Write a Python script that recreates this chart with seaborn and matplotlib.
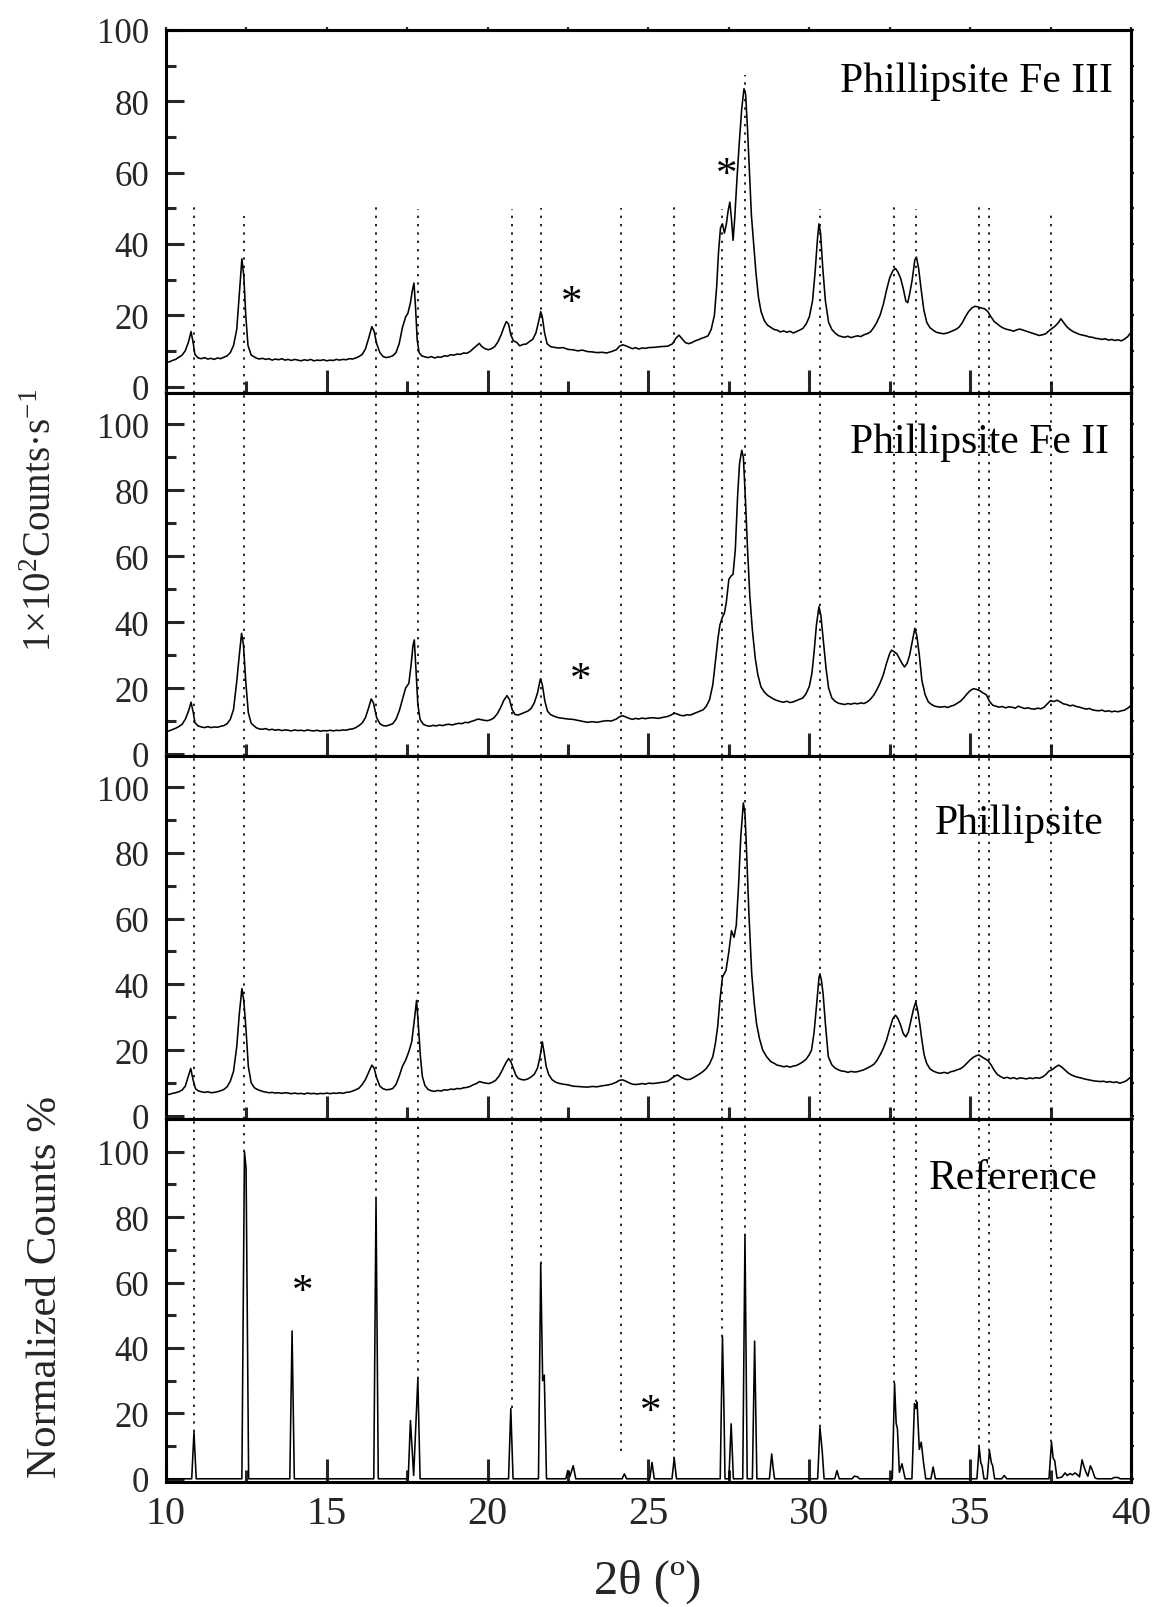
import numpy as np
import pandas as pd
import matplotlib
matplotlib.use("Agg")
import matplotlib.pyplot as plt
from matplotlib.ticker import MultipleLocator
import seaborn as sns

# ---------------- data ----------------
panel_names = ["Phillipsite Fe III", "Phillipsite Fe II", "Phillipsite", "Reference"]

# (2θ, 1e2 counts/s) for the Fe(III)-exchanged sample
fe3_trace = [
    (10.00, 6.8), (10.10, 6.9), (10.20, 7.3), (10.30, 7.6), (10.40, 8.2), (10.50, 8.8), (10.60, 10.0),
    (10.70, 12.5), (10.78, 15.4), (10.85, 12.0), (10.90, 9.0), (11.00, 8.0), (11.10, 7.8), (11.20, 8.1),
    (11.30, 7.7), (11.40, 7.9), (11.50, 7.6), (11.60, 8.0), (11.70, 7.8), (11.80, 8.2), (11.90, 8.6),
    (12.00, 9.5), (12.10, 11.5), (12.20, 16.0), (12.28, 26.0), (12.36, 35.8), (12.42, 31.0), (12.48, 20.0),
    (12.55, 11.5), (12.65, 8.8), (12.80, 8.0), (12.90, 7.7), (13.00, 7.9), (13.10, 7.6), (13.20, 7.8),
    (13.30, 7.4), (13.40, 7.7), (13.50, 7.5), (13.60, 7.8), (13.70, 7.4), (13.80, 7.6), (13.90, 7.3),
    (14.00, 7.6), (14.10, 7.4), (14.20, 7.2), (14.30, 7.5), (14.40, 7.3), (14.50, 7.6), (14.60, 7.2),
    (14.70, 7.4), (14.80, 7.3), (14.90, 7.5), (15.00, 7.2), (15.10, 7.4), (15.20, 7.3), (15.30, 7.6),
    (15.40, 7.4), (15.50, 7.6), (15.60, 7.5), (15.70, 7.8), (15.80, 7.7), (15.90, 8.0), (16.00, 8.4),
    (16.10, 9.0), (16.20, 10.5), (16.30, 13.5), (16.40, 16.8), (16.47, 15.5), (16.55, 12.0), (16.65, 9.5),
    (16.75, 8.4), (16.85, 8.1), (16.95, 8.3), (17.05, 8.6), (17.15, 9.5), (17.25, 12.0), (17.35, 16.5),
    (17.45, 19.5), (17.52, 20.5), (17.60, 23.5), (17.66, 27.0), (17.71, 29.0), (17.76, 22.0), (17.81, 13.0),
    (17.87, 9.5), (17.95, 8.6), (18.05, 8.3), (18.15, 8.1), (18.25, 8.4), (18.35, 8.0), (18.45, 8.3),
    (18.55, 8.2), (18.65, 8.6), (18.75, 8.5), (18.85, 8.9), (18.95, 8.8), (19.05, 9.1), (19.15, 9.0),
    (19.25, 9.4), (19.35, 9.3), (19.45, 9.8), (19.55, 10.6), (19.65, 11.4), (19.74, 12.1), (19.82, 11.2),
    (19.92, 10.6), (20.02, 10.3), (20.12, 10.6), (20.22, 11.2), (20.32, 12.5), (20.42, 14.5), (20.50, 16.5),
    (20.58, 18.2), (20.65, 17.5), (20.72, 14.5), (20.80, 12.8), (20.90, 12.4), (21.00, 11.4), (21.10, 11.8),
    (21.20, 11.9), (21.30, 12.6), (21.40, 13.2), (21.50, 15.0), (21.58, 18.0), (21.65, 21.0), (21.70, 19.5),
    (21.77, 15.0), (21.85, 12.0), (21.95, 11.2), (22.05, 11.0), (22.20, 10.8), (22.35, 10.9), (22.50, 10.4),
    (22.65, 10.3), (22.80, 10.0), (22.95, 10.2), (23.10, 9.8), (23.25, 9.7), (23.40, 9.5), (23.55, 9.6),
    (23.70, 9.4), (23.85, 9.8), (24.00, 10.3), (24.10, 11.3), (24.20, 11.7), (24.30, 11.4), (24.40, 11.0),
    (24.50, 10.6), (24.60, 10.9), (24.70, 10.5), (24.80, 10.8), (24.90, 10.7), (25.00, 10.9), (25.20, 11.0),
    (25.40, 11.2), (25.60, 11.3), (25.75, 12.0), (25.85, 13.5), (25.95, 14.4), (26.05, 13.3), (26.15, 12.3),
    (26.25, 12.0), (26.35, 12.3), (26.45, 12.8), (26.55, 13.1), (26.65, 13.5), (26.75, 13.8), (26.85, 14.2),
    (26.95, 16.0), (27.05, 20.0), (27.12, 28.0), (27.18, 38.0), (27.24, 44.5), (27.30, 45.6), (27.36, 43.0),
    (27.42, 45.5), (27.48, 49.5), (27.53, 51.7), (27.58, 47.0), (27.63, 41.0), (27.68, 47.0), (27.75, 58.0),
    (27.82, 68.0), (27.90, 78.0), (27.97, 83.5), (28.02, 82.0), (28.08, 72.0), (28.14, 60.0), (28.20, 48.0),
    (28.27, 40.0), (28.34, 32.0), (28.42, 25.0), (28.50, 21.0), (28.60, 18.5), (28.70, 17.2), (28.80, 16.6),
    (28.90, 16.0), (29.00, 15.8), (29.10, 15.3), (29.20, 15.6), (29.30, 15.2), (29.40, 15.5), (29.50, 15.0),
    (29.60, 15.4), (29.70, 15.8), (29.80, 16.3), (29.90, 17.5), (30.00, 19.5), (30.10, 24.0), (30.18, 32.0),
    (30.25, 41.0), (30.30, 45.6), (30.35, 43.0), (30.42, 33.0), (30.50, 24.0), (30.60, 18.0), (30.70, 16.0),
    (30.80, 15.0), (30.90, 14.3), (31.00, 14.0), (31.10, 13.8), (31.20, 14.1), (31.30, 13.7), (31.40, 14.0),
    (31.50, 14.2), (31.60, 14.0), (31.70, 14.5), (31.80, 14.8), (31.90, 15.3), (32.00, 16.5), (32.10, 18.0),
    (32.20, 20.0), (32.30, 23.0), (32.40, 27.0), (32.50, 30.5), (32.60, 32.5), (32.68, 33.1), (32.76, 32.0),
    (32.84, 30.3), (32.92, 27.5), (33.00, 24.0), (33.06, 23.5), (33.12, 26.0), (33.20, 30.0), (33.28, 35.5),
    (33.33, 36.3), (33.40, 33.0), (33.48, 27.0), (33.56, 21.5), (33.65, 18.0), (33.75, 16.5), (33.85, 15.8),
    (33.95, 15.2), (34.05, 15.0), (34.15, 14.8), (34.25, 14.9), (34.35, 15.2), (34.45, 15.6), (34.55, 16.0),
    (34.65, 16.6), (34.75, 17.8), (34.85, 19.5), (34.95, 21.0), (35.05, 22.0), (35.15, 22.5), (35.25, 22.3),
    (35.35, 22.0), (35.45, 21.8), (35.55, 21.0), (35.65, 19.5), (35.75, 18.2), (35.85, 17.5), (35.95, 16.8),
    (36.05, 16.3), (36.15, 16.0), (36.25, 15.8), (36.35, 15.5), (36.45, 15.9), (36.55, 16.1), (36.65, 15.8),
    (36.75, 15.5), (36.85, 15.2), (36.95, 14.9), (37.05, 14.6), (37.15, 14.3), (37.25, 14.5), (37.35, 14.8),
    (37.45, 15.6), (37.55, 16.3), (37.65, 17.0), (37.75, 18.0), (37.82, 19.0), (37.90, 18.0), (38.00, 16.8),
    (38.10, 16.0), (38.20, 15.4), (38.30, 15.0), (38.40, 14.6), (38.50, 14.4), (38.60, 14.2), (38.70, 13.9),
    (38.80, 13.8), (38.90, 13.5), (39.00, 13.4), (39.10, 13.2), (39.20, 13.4), (39.30, 13.0), (39.40, 13.2),
    (39.50, 12.9), (39.60, 13.1), (39.70, 12.8), (39.80, 13.3), (39.90, 14.0), (40.00, 15.2),
]

# (2θ, 1e2 counts/s) for the Fe(II)-exchanged sample
fe2_trace = [
    (10.00, 6.9), (10.10, 7.0), (10.20, 7.4), (10.30, 7.8), (10.40, 8.3), (10.50, 9.0), (10.60, 10.5),
    (10.70, 13.0), (10.78, 15.7), (10.85, 12.5), (10.90, 9.5), (11.00, 8.5), (11.10, 8.2), (11.20, 8.0),
    (11.30, 8.3), (11.40, 8.0), (11.50, 8.2), (11.60, 8.1), (11.70, 8.4), (11.80, 8.6), (11.90, 9.2),
    (12.00, 10.5), (12.10, 13.5), (12.20, 22.0), (12.28, 30.0), (12.35, 36.6), (12.41, 33.0), (12.48, 22.0),
    (12.56, 12.5), (12.65, 9.3), (12.80, 8.0), (12.90, 7.6), (13.00, 7.5), (13.10, 7.7), (13.20, 7.3),
    (13.30, 7.5), (13.40, 7.2), (13.50, 7.4), (13.60, 7.1), (13.70, 7.3), (13.80, 7.2), (13.90, 7.0),
    (14.00, 7.3), (14.10, 7.1), (14.20, 7.2), (14.30, 7.0), (14.40, 7.3), (14.50, 7.1), (14.60, 7.0),
    (14.70, 7.2), (14.80, 6.9), (14.90, 7.1), (15.00, 7.0), (15.10, 7.2), (15.20, 7.0), (15.30, 7.2),
    (15.40, 7.1), (15.50, 7.3), (15.60, 7.2), (15.70, 7.5), (15.80, 7.6), (15.90, 8.0), (16.00, 8.6),
    (16.10, 9.4), (16.20, 11.0), (16.30, 14.0), (16.38, 16.7), (16.45, 15.5), (16.55, 11.0), (16.65, 9.2),
    (16.75, 8.6), (16.85, 8.5), (16.95, 8.8), (17.05, 9.2), (17.15, 10.5), (17.25, 13.0), (17.35, 16.5),
    (17.45, 20.0), (17.55, 21.4), (17.62, 27.0), (17.68, 33.0), (17.72, 34.6), (17.77, 26.0), (17.83, 15.0),
    (17.90, 10.5), (18.00, 9.0), (18.10, 8.6), (18.20, 8.4), (18.30, 8.7), (18.40, 8.5), (18.50, 8.8),
    (18.60, 8.6), (18.70, 8.9), (18.80, 9.0), (18.90, 8.8), (19.00, 9.1), (19.10, 9.3), (19.20, 9.2),
    (19.30, 9.6), (19.40, 9.5), (19.50, 9.9), (19.60, 10.2), (19.70, 10.6), (19.80, 10.4), (19.90, 10.2),
    (20.00, 10.1), (20.10, 10.4), (20.20, 11.0), (20.30, 12.2), (20.40, 14.0), (20.50, 16.2), (20.60, 17.7),
    (20.68, 16.5), (20.76, 13.5), (20.85, 12.0), (20.95, 11.8), (21.05, 12.2), (21.15, 12.6), (21.25, 13.0),
    (21.35, 13.8), (21.45, 15.5), (21.55, 18.5), (21.64, 22.8), (21.70, 21.0), (21.78, 16.0), (21.86, 13.0),
    (21.95, 12.0), (22.05, 11.5), (22.20, 11.0), (22.35, 10.8), (22.50, 10.6), (22.65, 10.5), (22.80, 10.2),
    (22.95, 9.9), (23.10, 9.6), (23.25, 9.8), (23.40, 9.6), (23.55, 9.9), (23.70, 10.1), (23.85, 10.0),
    (24.00, 10.6), (24.10, 11.3), (24.20, 11.6), (24.30, 11.2), (24.40, 10.8), (24.50, 10.5), (24.60, 10.8),
    (24.70, 10.6), (24.80, 10.9), (24.90, 10.7), (25.00, 10.9), (25.15, 11.0), (25.30, 10.8), (25.45, 11.1),
    (25.60, 11.4), (25.70, 11.8), (25.80, 12.4), (25.90, 12.1), (26.00, 11.7), (26.10, 11.6), (26.20, 11.9),
    (26.30, 11.8), (26.40, 12.2), (26.50, 12.6), (26.60, 13.0), (26.70, 13.4), (26.80, 14.5), (26.90, 16.5),
    (27.00, 21.0), (27.08, 28.0), (27.16, 35.0), (27.22, 39.1), (27.30, 41.5), (27.36, 42.7), (27.42, 46.0),
    (27.50, 53.0), (27.57, 54.0), (27.63, 54.5), (27.70, 62.0), (27.77, 78.0), (27.83, 88.0), (27.90, 92.1),
    (27.95, 90.0), (28.02, 76.0), (28.08, 62.0), (28.15, 48.0), (28.23, 37.6), (28.32, 29.0), (28.40, 24.0),
    (28.50, 20.3), (28.60, 18.8), (28.70, 17.8), (28.80, 17.2), (28.90, 16.6), (29.00, 16.2), (29.10, 15.9),
    (29.20, 15.7), (29.30, 16.0), (29.40, 15.6), (29.50, 15.8), (29.60, 16.2), (29.70, 16.6), (29.80, 17.0),
    (29.90, 18.3), (30.00, 20.5), (30.08, 24.4), (30.15, 31.0), (30.22, 39.0), (30.30, 44.7), (30.36, 42.0),
    (30.44, 34.0), (30.52, 26.0), (30.60, 20.0), (30.70, 17.0), (30.80, 16.0), (30.90, 15.4), (31.00, 15.2),
    (31.10, 15.0), (31.20, 15.3), (31.30, 15.1), (31.40, 15.4), (31.50, 15.2), (31.60, 15.5), (31.70, 15.3),
    (31.80, 15.8), (31.90, 16.6), (32.00, 17.8), (32.10, 19.5), (32.20, 21.5), (32.30, 24.0), (32.40, 27.5),
    (32.50, 30.5), (32.56, 31.5), (32.64, 31.0), (32.72, 30.4), (32.80, 29.0), (32.88, 27.5), (32.96, 26.4),
    (33.04, 27.5), (33.12, 30.0), (33.20, 34.0), (33.28, 38.1), (33.34, 36.0), (33.42, 30.0), (33.50, 22.3),
    (33.60, 18.0), (33.70, 15.8), (33.80, 15.0), (33.90, 14.5), (34.00, 14.3), (34.10, 14.2), (34.20, 14.4),
    (34.30, 14.1), (34.40, 14.5), (34.50, 14.8), (34.60, 15.4), (34.70, 16.0), (34.80, 17.0), (34.90, 18.2),
    (35.00, 19.2), (35.10, 19.8), (35.20, 19.6), (35.30, 19.2), (35.40, 18.5), (35.50, 18.0), (35.60, 16.0),
    (35.70, 14.8), (35.80, 14.5), (35.90, 14.2), (36.00, 14.4), (36.10, 14.0), (36.20, 14.3), (36.30, 14.2),
    (36.40, 13.9), (36.50, 14.5), (36.60, 14.1), (36.70, 13.8), (36.80, 14.0), (36.90, 13.7), (37.00, 13.6),
    (37.10, 13.9), (37.20, 13.7), (37.30, 14.2), (37.40, 15.2), (37.50, 16.2), (37.60, 15.9), (37.70, 16.3),
    (37.80, 15.8), (37.90, 15.2), (38.00, 15.0), (38.10, 14.6), (38.20, 14.8), (38.30, 14.4), (38.40, 14.2),
    (38.50, 13.9), (38.60, 13.6), (38.70, 13.8), (38.80, 13.4), (38.90, 13.2), (39.00, 13.1), (39.10, 13.3),
    (39.20, 12.9), (39.30, 13.1), (39.40, 12.8), (39.50, 13.0), (39.60, 12.8), (39.70, 13.1), (39.80, 13.3),
    (39.90, 13.9), (40.00, 14.7),
]

# (2θ, 1e2 counts/s) for the parent phillipsite
phil_trace = [
    (10.00, 6.4), (10.10, 6.5), (10.20, 6.8), (10.30, 7.0), (10.40, 7.3), (10.50, 7.8), (10.60, 9.0),
    (10.68, 11.5), (10.77, 14.4), (10.84, 11.0), (10.92, 8.2), (11.00, 7.6), (11.10, 7.3), (11.20, 7.1),
    (11.30, 7.3), (11.40, 7.0), (11.50, 7.1), (11.60, 7.3), (11.70, 7.6), (11.80, 8.0), (11.90, 8.8),
    (12.00, 10.5), (12.10, 13.5), (12.20, 21.0), (12.28, 31.0), (12.36, 38.7), (12.42, 35.0), (12.49, 26.0),
    (12.56, 15.0), (12.65, 10.0), (12.75, 8.5), (12.86, 7.9), (13.00, 7.4), (13.10, 7.2), (13.20, 7.0),
    (13.30, 7.1), (13.40, 6.9), (13.50, 7.0), (13.60, 6.8), (13.70, 7.0), (13.80, 6.9), (13.90, 6.7),
    (14.00, 6.9), (14.10, 6.7), (14.20, 6.8), (14.30, 6.6), (14.40, 6.9), (14.50, 6.7), (14.60, 6.8),
    (14.70, 6.6), (14.80, 6.8), (14.90, 6.7), (15.00, 6.9), (15.10, 6.7), (15.20, 6.9), (15.30, 6.8),
    (15.40, 7.0), (15.50, 6.8), (15.60, 7.1), (15.70, 7.2), (15.80, 7.5), (15.90, 7.9), (16.00, 8.4),
    (16.10, 9.5), (16.20, 11.0), (16.30, 13.2), (16.40, 15.4), (16.47, 14.5), (16.55, 11.5), (16.65, 9.0),
    (16.75, 8.2), (16.85, 7.9), (16.95, 8.0), (17.05, 8.3), (17.15, 9.5), (17.25, 12.0), (17.35, 15.0),
    (17.45, 16.9), (17.55, 19.5), (17.64, 22.5), (17.72, 29.0), (17.79, 35.1), (17.85, 27.0), (17.91, 18.0),
    (17.97, 12.0), (18.05, 9.2), (18.15, 8.0), (18.25, 7.6), (18.35, 7.4), (18.45, 7.7), (18.55, 7.5),
    (18.65, 7.9), (18.75, 7.8), (18.85, 8.1), (18.95, 8.0), (19.05, 8.3), (19.15, 8.2), (19.25, 8.5),
    (19.35, 8.6), (19.45, 8.9), (19.55, 9.4), (19.65, 9.8), (19.75, 10.4), (19.85, 10.1), (19.95, 9.9),
    (20.05, 9.8), (20.15, 10.2), (20.25, 10.8), (20.35, 12.0), (20.45, 13.8), (20.55, 15.8), (20.65, 17.4),
    (20.72, 16.5), (20.80, 14.4), (20.88, 12.3), (20.95, 11.4), (21.05, 11.0), (21.15, 10.9), (21.25, 11.2),
    (21.35, 11.8), (21.45, 12.6), (21.55, 14.5), (21.63, 18.0), (21.70, 22.5), (21.76, 19.0), (21.82, 15.0),
    (21.90, 12.5), (22.00, 11.0), (22.10, 10.3), (22.20, 9.9), (22.35, 9.6), (22.50, 9.4), (22.65, 9.0),
    (22.80, 8.9), (22.95, 8.8), (23.10, 8.7), (23.25, 8.9), (23.40, 8.8), (23.55, 9.1), (23.70, 9.3),
    (23.85, 9.6), (24.00, 10.2), (24.10, 10.8), (24.20, 10.9), (24.30, 10.5), (24.40, 10.0), (24.50, 9.6),
    (24.60, 9.5), (24.70, 9.6), (24.80, 9.8), (24.90, 9.6), (25.00, 9.9), (25.15, 9.8), (25.30, 10.0),
    (25.45, 10.2), (25.60, 10.5), (25.70, 11.2), (25.80, 12.0), (25.90, 12.4), (26.00, 11.8), (26.10, 11.3),
    (26.20, 11.0), (26.30, 11.1), (26.40, 11.6), (26.50, 12.2), (26.60, 12.8), (26.70, 13.5), (26.80, 14.4),
    (26.90, 15.8), (27.00, 18.0), (27.08, 22.0), (27.15, 27.0), (27.22, 35.0), (27.30, 42.2), (27.41, 44.2),
    (27.50, 50.0), (27.58, 56.3), (27.66, 54.3), (27.73, 58.0), (27.80, 70.0), (27.87, 85.0), (27.95, 95.2),
    (28.00, 92.0), (28.05, 80.5), (28.12, 62.0), (28.21, 43.2), (28.29, 34.0), (28.36, 28.0), (28.45, 23.5),
    (28.55, 20.0), (28.67, 18.0), (28.80, 16.5), (28.90, 16.0), (29.00, 15.4), (29.10, 15.2), (29.20, 14.9),
    (29.30, 15.1), (29.40, 14.8), (29.50, 15.1), (29.60, 15.3), (29.70, 15.8), (29.80, 16.4), (29.90, 17.2),
    (30.00, 18.6), (30.07, 20.0), (30.15, 25.5), (30.22, 33.0), (30.30, 42.0), (30.33, 43.2), (30.38, 41.0),
    (30.43, 37.0), (30.50, 28.0), (30.59, 18.0), (30.70, 15.5), (30.80, 14.5), (30.90, 14.0), (31.00, 13.6),
    (31.10, 13.5), (31.20, 13.2), (31.30, 13.5), (31.40, 13.3), (31.50, 13.4), (31.60, 13.7), (31.70, 14.0),
    (31.80, 14.5), (31.90, 15.0), (32.00, 15.6), (32.10, 16.8), (32.20, 18.5), (32.30, 20.5), (32.40, 23.0),
    (32.50, 26.5), (32.60, 29.6), (32.68, 30.6), (32.76, 29.5), (32.84, 27.5), (32.92, 25.0), (33.00, 24.0),
    (33.08, 25.5), (33.16, 29.0), (33.24, 32.5), (33.31, 34.6), (33.37, 32.0), (33.44, 27.5), (33.50, 23.0),
    (33.57, 18.5), (33.65, 15.9), (33.75, 14.3), (33.85, 13.6), (33.95, 13.2), (34.06, 12.9), (34.20, 13.2),
    (34.30, 12.9), (34.40, 13.4), (34.50, 13.6), (34.60, 14.0), (34.70, 14.3), (34.80, 15.0), (34.90, 16.0),
    (35.00, 17.0), (35.10, 17.8), (35.20, 18.3), (35.27, 18.5), (35.35, 18.0), (35.45, 17.4), (35.55, 16.8),
    (35.65, 15.5), (35.75, 13.8), (35.85, 12.5), (35.95, 11.9), (36.05, 11.4), (36.15, 11.7), (36.25, 11.3),
    (36.35, 11.6), (36.45, 11.2), (36.55, 11.5), (36.65, 11.4), (36.75, 11.2), (36.85, 11.5), (36.95, 11.3),
    (37.05, 11.6), (37.15, 11.4), (37.25, 11.8), (37.35, 12.5), (37.45, 13.6), (37.55, 14.0), (37.65, 14.8),
    (37.75, 15.4), (37.85, 14.8), (37.95, 13.9), (38.05, 13.0), (38.15, 12.4), (38.25, 12.0), (38.35, 11.7),
    (38.45, 11.5), (38.55, 11.2), (38.65, 11.0), (38.75, 10.8), (38.85, 10.6), (38.95, 10.5), (39.05, 10.4),
    (39.15, 10.5), (39.25, 10.2), (39.35, 10.4), (39.45, 10.1), (39.55, 10.3), (39.65, 9.9), (39.75, 10.2),
    (39.85, 10.6), (39.95, 11.4), (40.00, 11.8),
]

# (2θ, normalized counts %) for the reference pattern
ref_trace = [
    (10.00, 0.0), (10.80, 0.0), (10.87, 14.2), (10.94, 0.0),
    (12.36, 0.0), (12.44, 100.0), (12.49, 95.0), (12.57, 0.0),
    (13.85, 0.0), (13.92, 45.2), (13.99, 0.0),
    (16.46, 0.0), (16.53, 85.5), (16.60, 0.0),
    (17.53, 0.0), (17.60, 17.8), (17.70, 1.0), (17.83, 30.5), (17.90, 0.0),
    (20.65, 0.0), (20.72, 21.5), (20.79, 0.0),
    (21.58, 0.0), (21.65, 65.8), (21.71, 30.0), (21.76, 31.7), (21.83, 0.0),
    (22.43, 0.0), (22.49, 2.5), (22.56, 0.8), (22.66, 4.0), (22.74, 0.0),
    (24.18, 0.0), (24.25, 1.5), (24.32, 0.0),
    (25.04, 0.0), (25.11, 5.0), (25.18, 0.0),
    (25.73, 0.0), (25.80, 6.3), (25.87, 0.0),
    (27.23, 0.0), (27.30, 43.5), (27.34, 25.0), (27.38, 0.0),
    (27.50, 0.0), (27.57, 16.8), (27.64, 0.0),
    (27.93, 0.0), (28.00, 74.3), (28.07, 0.0),
    (28.23, 0.0), (28.30, 42.1), (28.37, 0.0),
    (28.76, 0.0), (28.83, 7.6), (28.88, 3.0), (28.92, 0.0),
    (30.26, 0.0), (30.33, 15.7), (30.40, 8.6), (30.46, 0.0),
    (30.79, 0.0), (30.86, 2.5), (30.93, 0.0),
    (31.33, 0.0), (31.40, 0.8), (31.50, 0.6), (31.56, 0.0),
    (32.58, 0.0), (32.65, 29.2), (32.70, 17.0), (32.74, 15.2), (32.80, 2.0), (32.88, 4.6), (32.98, 0.0),
    (33.19, 0.0), (33.27, 23.0), (33.31, 21.5), (33.35, 23.4), (33.42, 9.0), (33.48, 11.2), (33.55, 5.0),
    (33.62, 0.0),
    (33.78, 0.0), (33.85, 3.6), (33.92, 0.0),
    (35.21, 0.0), (35.28, 9.7), (35.33, 4.9), (35.37, 4.0), (35.43, 0.0),
    (35.53, 0.0), (35.60, 8.6), (35.66, 4.9), (35.70, 4.0), (35.76, 0.0),
    (35.98, 0.0), (36.06, 1.0), (36.14, 0.0),
    (37.45, 0.0), (37.53, 11.2), (37.58, 6.3), (37.63, 5.5), (37.70, 0.2),
    (37.85, 0.5), (37.95, 1.8), (38.02, 1.0), (38.10, 1.6), (38.18, 1.2), (38.26, 1.8), (38.34, 1.2),
    (38.40, 0.6), (38.48, 5.8), (38.54, 3.7), (38.60, 2.0), (38.66, 0.8), (38.74, 4.0), (38.80, 2.6),
    (38.88, 0.3), (38.95, 0.0),
    (39.40, 0.0), (39.48, 0.4), (39.60, 0.4), (39.66, 0.0), (40.00, 0.0),
]

# reflections marked by dotted guides (2θ), the top of each guide in the Fe III panel
# and the peak height each guide reaches in the reference panel
guide_2theta = [10.88, 12.43, 16.53, 17.84, 20.77, 21.67, 24.14, 25.80,
                27.30, 28.00, 30.33, 32.62, 33.31, 35.28, 35.60, 37.52]
guide_top_fe3 = [50.5, 47.7, 51.3, 49.7, 49.7, 50.0, 50.0, 51.0,
                 49.8, 87.4, 49.8, 51.0, 49.7, 51.0, 50.0, 49.5]
guide_floor_ref = [14.2, 100.0, 85.5, 30.5, 21.5, 65.8, 8.6, 6.1,
                   43.5, 74.3, 15.7, 29.4, 23.4, 9.7, 8.6, 11.2]

# impurity reflections flagged with an asterisk: panel index, 2θ, baseline height
star_panel = [0, 0, 1, 3, 3]
star_2theta = [22.62, 27.43, 22.90, 14.24, 25.08]
star_height = [20.7, 56.5, 19.5, 54.0, 17.5]

# ---------------- style ----------------
sns.set_theme(style="ticks")
plt.rcParams["font.family"] = ["Liberation Serif", "DejaVu Serif"]
plt.rcParams["mathtext.fontset"] = "custom"
plt.rcParams["mathtext.rm"] = "Liberation Serif"
plt.rcParams["mathtext.it"] = "Liberation Serif:italic"
plt.rcParams["axes.linewidth"] = 2.2

fig, axes = plt.subplots(4, 1, figsize=(11.55, 16.08), dpi=100, sharex=True)
fig.subplots_adjust(left=0.1437, right=0.9792, top=0.9808, bottom=0.0777, hspace=0)

traces = [fe3_trace, fe2_trace, phil_trace, ref_trace]
ylims = [(-1.8, 100.0), (-0.6, 109.5), (-1.0, 109.5), (-1.0, 110.0)]
label_pos = [(39.44, 82.8), (39.33, 91.6), (39.14, 86.2), (38.97, 88.9)]

dot_style = (0, (1.4, 3.6))

for i, ax in enumerate(axes):
    df = pd.DataFrame(traces[i], columns=["two_theta", "intensity"])
    sns.lineplot(data=df, x="two_theta", y="intensity", ax=ax, color="black",
                 linewidth=1.15, estimator=None, sort=False, zorder=3)

    # dotted reflection guides
    if i == 0:
        ax.vlines(guide_2theta, ylims[0][0], guide_top_fe3, colors="black",
                  linestyles=[dot_style], linewidth=1.2, zorder=1)
    elif i == 3:
        ax.vlines(guide_2theta, guide_floor_ref, ylims[3][1], colors="black",
                  linestyles=[dot_style], linewidth=1.2, zorder=1)
    else:
        ax.vlines(guide_2theta, ylims[i][0], ylims[i][1], colors="black",
                  linestyles=[dot_style], linewidth=1.2, zorder=1)

    ax.set_xlim(10, 40)
    ax.set_ylim(*ylims[i])
    ax.set_xlabel("")
    ax.set_ylabel("")

    ax.xaxis.set_major_locator(MultipleLocator(5))
    ax.xaxis.set_minor_locator(MultipleLocator(2.5))
    ax.yaxis.set_major_locator(MultipleLocator(20))
    ax.yaxis.set_minor_locator(MultipleLocator(10))
    ax.set_yticks([0, 20, 40, 60, 80, 100])

    ax.tick_params(axis="x", which="major", direction="in", length=16.5, width=2.2,
                   bottom=True, top=False, labelsize=29, pad=9)
    ax.tick_params(axis="x", which="minor", direction="in", length=8.5, width=2.2,
                   bottom=True, top=False)
    ax.tick_params(axis="y", which="major", direction="in", length=13, width=2.2,
                   left=True, right=False, labelsize=25, pad=12)
    ax.tick_params(axis="y", which="minor", direction="in", length=7, width=2.2,
                   left=True, right=False)
    if i < 3:
        ax.tick_params(axis="x", which="both", labelbottom=False)

    # small outward marks on the opposite spines
    sec_y = ax.secondary_yaxis("right")
    sec_y.yaxis.set_major_locator(MultipleLocator(20))
    sec_y.yaxis.set_minor_locator(MultipleLocator(10))
    sec_y.tick_params(which="both", direction="out", length=2.5, width=1.6, labelright=False)
    sec_y.spines["right"].set_linewidth(2.2)
    sec_x = ax.secondary_xaxis("top")
    sec_x.xaxis.set_major_locator(MultipleLocator(5))
    sec_x.xaxis.set_minor_locator(MultipleLocator(2.5))
    sec_x.tick_params(which="both", direction="out", length=2.5, width=1.6, labeltop=False)
    sec_x.spines["top"].set_linewidth(2.2)

    for side in ["left", "right", "top", "bottom"]:
        ax.spines[side].set_linewidth(2.2)
        ax.spines[side].set_color("black")

    ax.text(label_pos[i][0], label_pos[i][1], panel_names[i], ha="right", va="baseline",
            fontsize=30, color="black", zorder=4)

    for p, sx, sy in zip(star_panel, star_2theta, star_height):
        if p == i:
            ax.text(sx, sy, "*", ha="center", va="baseline", fontsize=31, color="black", zorder=4)

axes[3].set_xticks([10, 15, 20, 25, 30, 35, 40])

fig.text(0.0355, 0.6766, "1×10$^{2}$Counts·s$^{-1}$", rotation=90,
         ha="center", va="center", fontsize=28)
fig.text(0.0398, 0.1996, "Normalized Counts %", rotation=90,
         ha="center", va="center", fontsize=31)
fig.text(0.561, 0.0162, "2θ (º)", ha="center", va="center", fontsize=35)

fig.savefig("out.png", dpi=100, facecolor="white")
